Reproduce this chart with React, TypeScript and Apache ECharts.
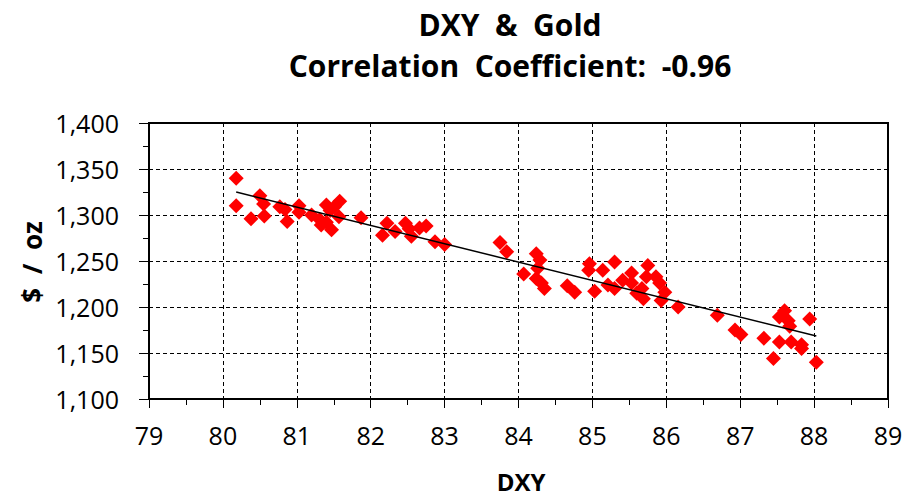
import React, { useEffect, useRef } from "react";
import * as echarts from "echarts";

const dxy: number[] = [
  80.18, 80.18, 80.38, 80.5, 80.55, 80.56, 80.77, 80.84, 80.87, 81.03,
  81.03, 81.2, 81.31, 81.33, 81.4, 81.45, 81.47, 81.51, 81.58, 81.57,
  81.4, 81.87, 82.16, 82.22, 82.33, 82.47, 82.52, 82.55, 82.66, 82.75,
  82.87, 83.0, 83.75, 83.84, 84.07, 84.24, 84.29, 84.26, 84.24, 84.31,
  84.35, 84.66, 84.76, 84.96, 84.95, 85.03, 85.14, 85.21, 85.3, 85.3,
  85.41, 85.53, 85.53, 85.6, 85.69, 85.67, 85.75, 85.73, 85.86, 85.91,
  85.98, 85.93, 86.16, 86.69, 86.93, 87.01, 87.32, 87.45, 87.53, 87.6,
  87.53, 87.65, 87.67, 87.69, 87.83, 87.83, 87.94, 88.03,
];
const gold: number[] = [
  1340, 1310, 1296, 1321, 1312, 1299, 1309, 1306, 1293, 1310,
  1303, 1300, 1295, 1289, 1311, 1305, 1284, 1309, 1315, 1298,
  1292, 1297, 1278, 1291, 1282, 1291, 1285, 1277, 1286, 1288,
  1271, 1268, 1270, 1260, 1236, 1258, 1251, 1242, 1231, 1226,
  1220, 1223, 1216, 1247, 1240, 1217, 1240, 1224, 1249, 1220,
  1229, 1237, 1226, 1215, 1209, 1220, 1245, 1233, 1233, 1226,
  1216, 1207, 1200, 1191, 1175, 1170, 1166, 1144, 1162, 1196,
  1189, 1185, 1179, 1162, 1159, 1155, 1187, 1140,
];
const trendX: number[] = [80.18, 88.03];
const trendY: number[] = [1325, 1168.5];

const titleLine1 = "DXY  &  Gold";
const titleLine2 = "Correlation  Coefficient:  -0.96";
const xName = "DXY";
const yName = "$  /  oz";

export default function App() {
  const ref = useRef<HTMLDivElement>(null);
  useEffect(() => {
    if (!ref.current) return;
    const chart = echarts.init(ref.current, undefined, { renderer: "svg" });
    const labelFont = "Open Sans";
    const boldFont = "Open Sans";
    chart.setOption({
      animation: false,
      backgroundColor: "#ffffff",
      grid: {
        left: 149,
        right: 20,
        top: 123,
        bottom: 98,
        show: true,
        borderColor: "#000",
        borderWidth: 2,
        backgroundColor: "transparent",
      },
      graphic: [
        {
          type: "text",
          x: 510,
          y: 24,
          style: {
            text: titleLine1,
            fontFamily: boldFont,
            fontWeight: "bold",
            fontSize: 30,
            fill: "#000",
            align: "center",
            verticalAlign: "middle",
          },
        },
        {
          type: "text",
          x: 510,
          y: 65,
          style: {
            text: titleLine2,
            fontFamily: boldFont,
            fontWeight: "bold",
            fontSize: 30,
            fill: "#000",
            align: "center",
            verticalAlign: "middle",
          },
        },
        {
          type: "text",
          x: 521,
          y: 481,
          style: {
            text: xName,
            fontFamily: boldFont,
            fontWeight: "bold",
            fontSize: 24,
            fill: "#000",
            align: "center",
            verticalAlign: "middle",
          },
        },
        {
          type: "text",
          x: 32,
          y: 262,
          rotation: Math.PI / 2,
          style: {
            text: yName,
            fontFamily: boldFont,
            fontWeight: "bold",
            fontSize: 26,
            fill: "#000",
            align: "center",
            verticalAlign: "middle",
          },
        },
      ],
      xAxis: {
        type: "value",
        min: 79,
        max: 89,
        interval: 1,
        axisLine: { show: true, lineStyle: { color: "#000", width: 2 } },
        axisTick: { show: true, length: 9, lineStyle: { color: "#000", width: 1 } },
        minorTick: { show: true, splitNumber: 2, length: 6, lineStyle: { color: "#000", width: 1 } },
        splitLine: { show: true, lineStyle: { color: "#000", width: 1, type: [4, 3] } },
        axisLabel: {
          color: "#000",
          fontFamily: labelFont,
          fontSize: 25,
          margin: 23,
        },
      },
      yAxis: {
        type: "value",
        min: 1100,
        max: 1400,
        interval: 50,
        axisLine: { show: true, lineStyle: { color: "#000", width: 2 } },
        axisTick: { show: true, length: 10, lineStyle: { color: "#000", width: 1 } },
        minorTick: { show: true, splitNumber: 2, length: 6, lineStyle: { color: "#000", width: 1 } },
        splitLine: { show: true, lineStyle: { color: "#000", width: 1, type: [4, 3] } },
        axisLabel: {
          color: "#000",
          fontFamily: labelFont,
          fontSize: 25,
          margin: 30,
          formatter: (v: number) => v.toLocaleString("en-US"),
        },
      },
      series: [
        {
          type: "scatter",
          symbol: "diamond",
          symbolSize: 15,
          itemStyle: { color: "#ff0000", opacity: 1 },
          data: dxy.map((x, i) => [x, gold[i]]),
          z: 2,
        },
        {
          type: "line",
          symbol: "none",
          lineStyle: { color: "#000", width: 1.5 },
          data: trendX.map((x, i) => [x, trendY[i]]),
          z: 3,
        },
      ],
    });
    return () => chart.dispose();
  }, []);
  return (
    <div
      ref={ref}
      style={{ position: "fixed", left: 0, top: 0, width: 908, height: 497 }}
    />
  );
}
